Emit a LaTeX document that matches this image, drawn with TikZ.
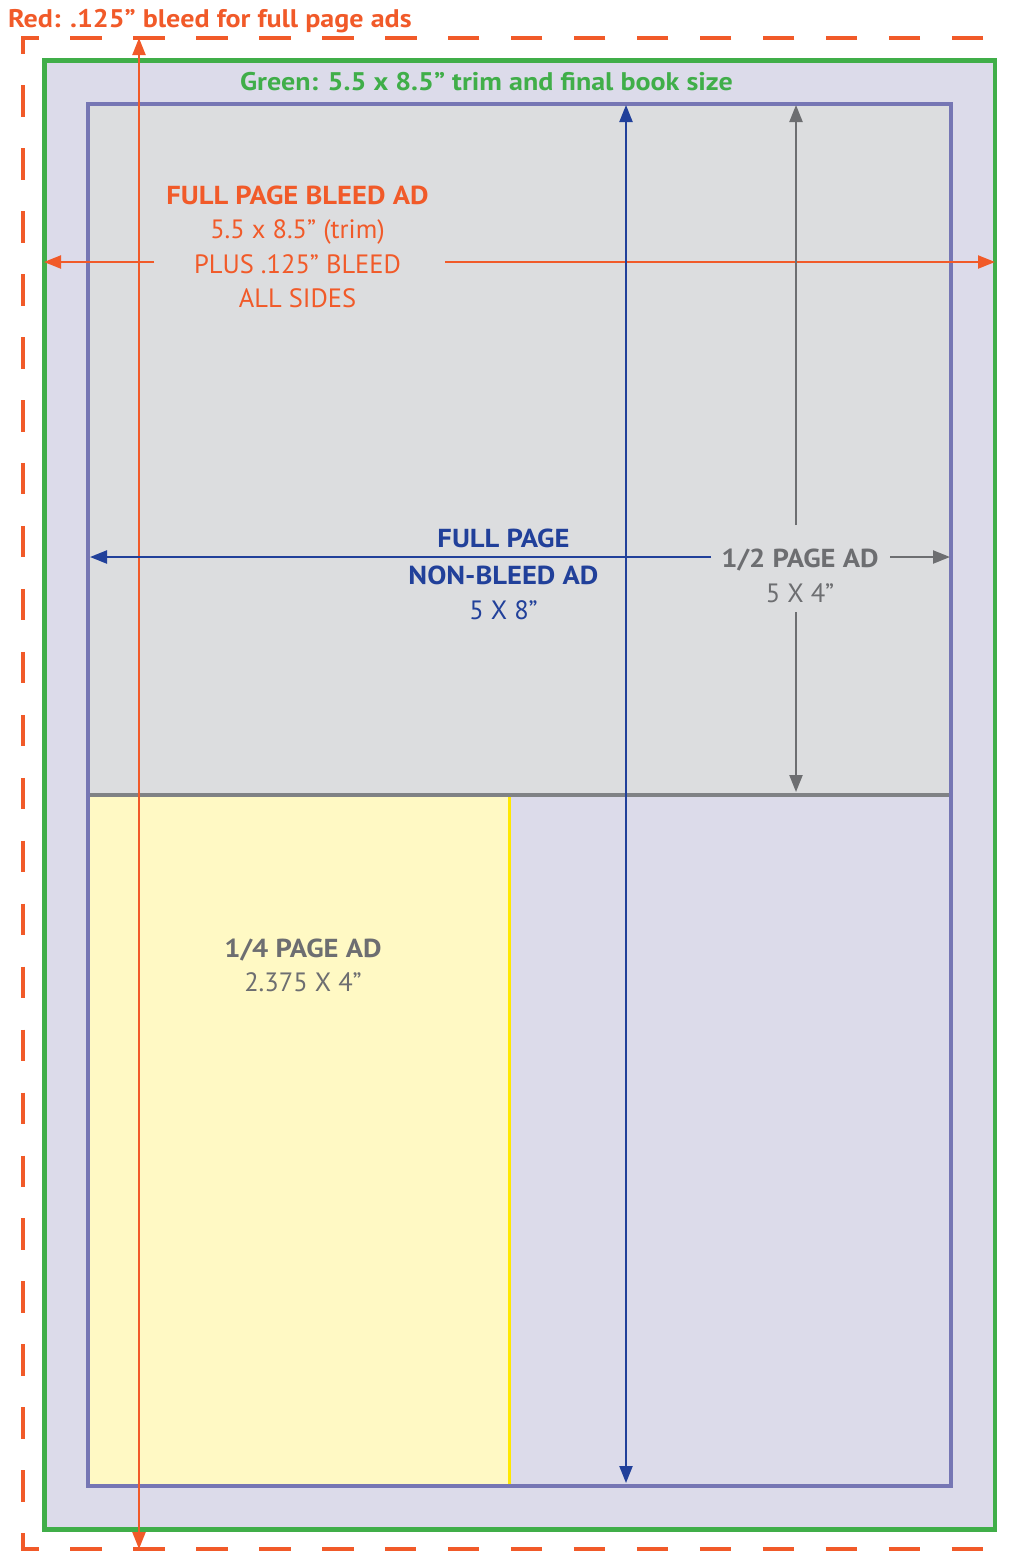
\documentclass[tikz,border=0pt]{standalone}
\usepackage{fontspec}
\setmainfont{PT Sans}[BoldFeatures={FakeStretch=1.1}]
\usetikzlibrary{arrows.meta}
\definecolor{bleedred}{RGB}{241,90,41}
\definecolor{trimgreen}{RGB}{64,174,73}
\definecolor{lav}{RGB}{220,219,234}
\definecolor{boxpurple}{RGB}{118,118,180}
\definecolor{halfgray}{RGB}{220,221,223}
\definecolor{divgray}{RGB}{128,130,133}
\definecolor{quartyellow}{RGB}{255,249,196}
\definecolor{yellowline}{RGB}{255,232,0}
\definecolor{adblue}{RGB}{33,64,154}
\definecolor{adgray}{RGB}{109,110,113}
\tikzset{
  dimtip/.tip={Triangle[length=17pt,width=13pt]},
  dimline/.style={line width=2.2pt},
  area/.style={inner sep=0pt, outer sep=0pt, anchor=north west},
  headtxt/.style={inner sep=0pt, font=\fontsize{26}{30}\selectfont\bfseries},
  bodytxt/.style={inner sep=0pt, font=\fontsize{26.5}{30}\selectfont},
  titletxt/.style={inner sep=0pt, font=\fontsize{25.5}{30}\selectfont\bfseries},
}
\begin{document}
\begin{tikzpicture}[x=1pt,y=-1pt]
\useasboundingbox (0,0) rectangle (1013,1551);
\clip (0,0) rectangle (1013,1551);
% trim box
\node[area, draw=trimgreen, line width=4.5pt, fill=lav, minimum width=950.5pt, minimum height=1469pt] (trim) at (44.5,60.5) {};
% ad areas
\node[area, fill=halfgray, minimum width=863.5pt, minimum height=691pt] (half) at (87.5,104) {};
\node[area, fill=quartyellow, minimum width=422pt, minimum height=690.5pt] (quarter) at (87.5,795) {};
\draw[yellowline, line width=3pt] (quarter.north east) -- (quarter.south east);
\draw[divgray, line width=4.5pt] (half.south west) -- (half.south east);
\node[area, draw=boxpurple, line width=4pt, minimum width=863.5pt, minimum height=1381.5pt] (full) at (87.5,104) {};
% bleed line
\draw[bleedred, line width=4.5pt, dash pattern=on 31.5pt off 31.458pt, dash phase=26.08pt] (1020,38) coordinate (bl1) -- (23,38) coordinate (bl2) -- (23,1549) coordinate (bl3) -- (1020,1549) coordinate (bl4);
% coordinates for dimension lines
\coordinate (rvt) at (139,38);
\coordinate (rvb) at (139,1549);
\coordinate (rhl) at (44,262);
\coordinate (rhr) at (995,262);
\coordinate (rhl2) at (154,262);
\coordinate (rhr2) at (445,262);
\coordinate (bvt) at (626,105);
\coordinate (bvb) at (626,1483);
\coordinate (bhl) at (90,557);
\coordinate (bhe) at (711,557);
\coordinate (gvt) at (796,105);
\coordinate (gvt2) at (796,525);
\coordinate (gvb2) at (796,612);
\coordinate (gvb) at (796,792);
\coordinate (ghs) at (890,557);
\coordinate (ghr) at (950,557);
% dimension lines
\draw[bleedred, dimline, {dimtip}-{dimtip}] (rvt) -- (rvb);
\draw[bleedred, dimline, -{dimtip}] (rhl2) -- (rhl);
\draw[bleedred, dimline, -{dimtip}] (rhr2) -- (rhr);
\draw[adblue, dimline, {dimtip}-{dimtip}] (bvt) -- (bvb);
\draw[adblue, dimline, -{dimtip}] (bhe) -- (bhl);
\draw[adgray, dimline, -{dimtip}] (gvt2) -- (gvt);
\draw[adgray, dimline, -{dimtip}] (gvb2) -- (gvb);
\draw[adgray, dimline, -{dimtip}] (ghs) -- (ghr);
% texts
\node[titletxt, text=bleedred, anchor=base west] (redtitle) at (8,27) {Red: .125” bleed for full page ads};
\node[titletxt, text=trimgreen, anchor=base] (greentitle) at (486.5,90) {Green: 5.5 x 8.5” trim and final book size};
\node[headtxt, text=bleedred, anchor=base] (fb1) at (297.5,204) {FULL PAGE BLEED AD};
\node[bodytxt, text=bleedred, anchor=base] (fb2) at (297.5,238.5) {5.5 x 8.5” (trim)};
\node[bodytxt, text=bleedred, anchor=base] (fb3) at (297.5,273) {PLUS .125” BLEED};
\node[bodytxt, text=bleedred, anchor=base] (fb4) at (297.5,307.5) {ALL SIDES};
\node[headtxt, text=adblue, anchor=base] (nb1) at (503.5,547) {FULL PAGE};
\node[headtxt, text=adblue, anchor=base] (nb2) at (503.5,584) {NON-BLEED AD};
\node[bodytxt, text=adblue, anchor=base] (nb3) at (503.5,619) {5 X 8”};
\node[headtxt, text=adgray, anchor=base] (hp1) at (800,567) {1/2 PAGE AD};
\node[bodytxt, text=adgray, anchor=base] (hp2) at (800,602) {5 X 4”};
\node[headtxt, text=adgray, anchor=base] (qp1) at (303,957) {1/4 PAGE AD};
\node[bodytxt, text=adgray, anchor=base] (qp2) at (303,991) {2.375 X 4”};
\end{tikzpicture}
\end{document}
